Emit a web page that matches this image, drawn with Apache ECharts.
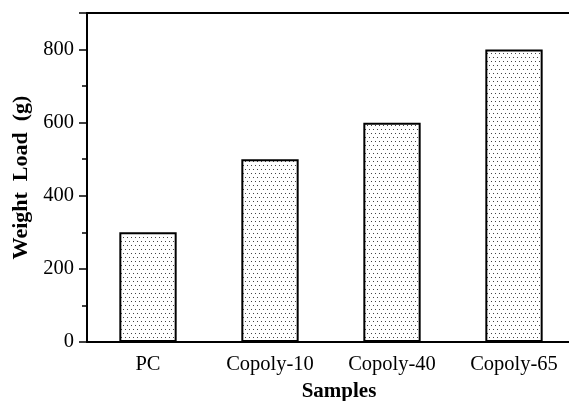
<!DOCTYPE html>
<html><head><meta charset="utf-8">
<script src="https://cdn.jsdelivr.net/npm/echarts@6/dist/echarts.min.js"></script>
<style>html,body{margin:0;padding:0;background:#fff}#c{width:569px;height:401px}</style>
</head><body><div id="c"></div>
<script>
var categories = ['PC', 'Copoly-10', 'Copoly-40', 'Copoly-65'];
var weightLoad = [300, 500, 600, 800];
var yTicks = [0, 200, 400, 600, 800];

var tile = document.createElement('canvas');
tile.width = 4; tile.height = 8;
var tc = tile.getContext('2d');
tc.fillStyle = '#fff'; tc.fillRect(0,0,4,8);
tc.fillStyle = '#444';
tc.fillRect(1,1,1,1); tc.fillRect(3,5,1,1);

var font = '"Liberation Serif", "Times New Roman", serif';
var chart = echarts.init(document.getElementById('c'), null, {renderer:'canvas'});
chart.setOption({
  animation: false,
  grid: {left: 87, right: -6, top: 13, bottom: 59, containLabel: false, outerBoundsMode: 'none'},
  xAxis: [{
    type: 'category', data: categories, position: 'bottom',
    axisLine: {lineStyle: {color: '#000', width: 2}},
    axisTick: {alignWithLabel: true, inside: false, length: 6, lineStyle: {color:'#000', width: 2}},
    axisLabel: {color: '#000', fontFamily: font, fontSize: 20.5, margin: 12},
    name: 'Samples', nameLocation: 'middle', nameGap: 39,
    nameTextStyle: {color: '#000', fontFamily: font, fontSize: 21, fontWeight: 'bold', padding: [0,0,0,16]}
  }, {
    type: 'category', data: categories, position: 'top',
    axisLine: {lineStyle: {color: '#000', width: 2}},
    axisTick: {show: false}, axisLabel: {show: false}
  }],
  yAxis: {
    type: 'value', min: 0, max: 900, interval: 200,
    axisLine: {show: true, lineStyle: {color: '#000', width: 2}},
    axisTick: {show: true, length: 8, lineStyle: {color:'#000', width: 1.5}},
    minorTick: {show: true, splitNumber: 2, length: 5, lineStyle: {color:'#000', width: 1.5}},
    splitLine: {show: false},
    axisLabel: {color: '#000', fontFamily: font, fontSize: 20.5, margin: 13,
      formatter: function(v){ return yTicks.indexOf(v) >= 0 ? String(v) : ''; }},
    name: 'Weight  Load  (g)', nameLocation: 'middle', nameGap: 54, nameRotate: 90,
    nameTextStyle: {color: '#000', fontFamily: font, fontSize: 22, fontWeight: 'bold'}
  },
  series: [{
    type: 'bar', data: weightLoad, barWidth: '47%', xAxisIndex: 0,
    itemStyle: {color: {image: tile, repeat: 'repeat'}, borderColor: '#000', borderWidth: 2}
  }]
});
</script></body></html>
